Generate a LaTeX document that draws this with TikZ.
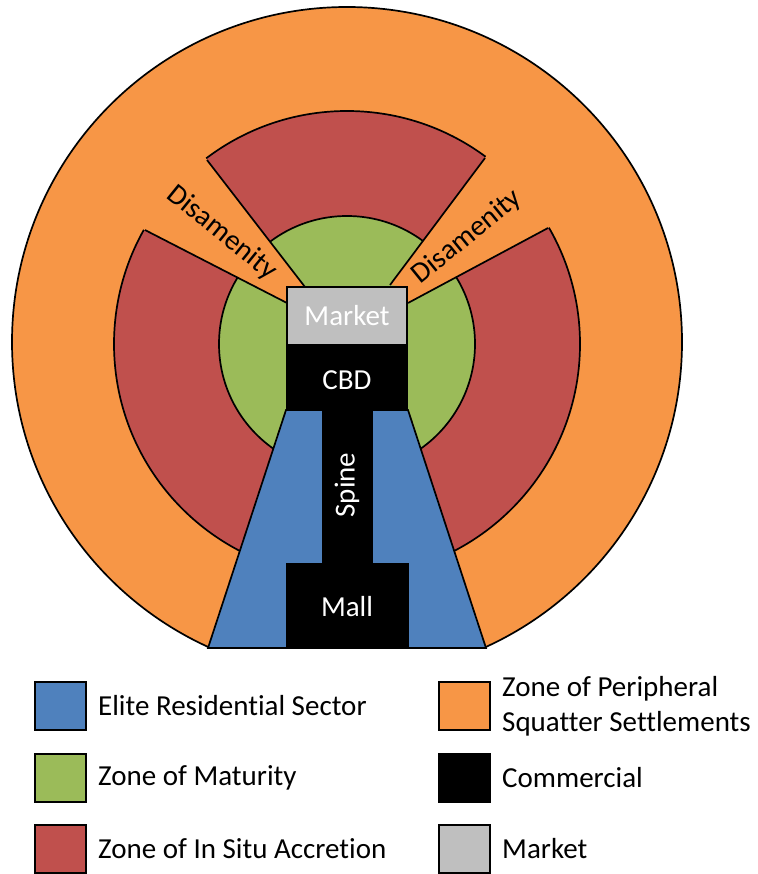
\documentclass[tikz,border=0pt]{standalone}
\usepackage{fontspec}
\setmainfont{Carlito}[Ligatures=NoCommon]
\usetikzlibrary{positioning}
\definecolor{peri}{HTML}{F79646}
\definecolor{accr}{HTML}{C0504D}
\definecolor{matu}{HTML}{9BBB59}
\definecolor{elite}{HTML}{4F81BD}
\definecolor{mkt}{HTML}{BFBFBF}
\tikzset{zone/.style={draw=black,line width=1.7pt},lbl/.style={font=\fontsize{29}{35}\selectfont,inner sep=0pt}}
\newcommand{\keybox}[5]{\draw[fill=#1,line width=1.6pt] (#2,#3) rectangle ++(51,48);\node[lbl,anchor=west,align=left] (#4) at (#2+63,#3+24) {#5};}

\begin{document}
\begin{tikzpicture}[x=1pt,y=-1pt]
\useasboundingbox (0,0) rectangle (757,874);
\begin{scope}\clip (0,0) rectangle (757,648);
\draw[zone,fill=peri] (347,342) circle[radius=335pt];
\end{scope}
\draw[zone,fill=accr] (347,344) circle[radius=233pt];
\draw[zone,fill=matu] (347,344) circle[radius=128pt];
\fill[peri] (287,303)--(88,201)--(168,109)--(305,287)--(287,287)--cycle;
\fill[peri] (408,303)--(604,198)--(523,107)--(390,285)--(408,287)--cycle;
\draw[zone] (145,230)--(287,303) (207,160)--(305,287);\draw[zone] (548,228)--(408,303) (485,158)--(390,285);
\draw[zone,fill=elite] (286,410)--(408,410)--(486,648)--(208,648)--cycle;
\fill (286,345) rectangle (408,411);\fill (322,405) rectangle (373,568);\fill (286,563) rectangle (409,648);
\draw[line width=1.6pt,fill=mkt] (287,287) rectangle (407,345);
\node[lbl,text=white] (market) at (347,316) {Market};
\node[lbl,text=white] (cbd) at (347,380) {CBD};
\node[lbl,text=white,rotate=90] (spine) at (347,485) {Spine};
\node[lbl,text=white] (mall) at (347,607) {Mall};
\node[lbl,rotate=-39] (disL) at (222,233) {Disamenity};
\node[lbl,rotate=39] (disR) at (467,237) {Disamenity};
\keybox{elite}{35}{682}{keyElite}{Elite Residential Sector}
\keybox{matu}{35}{754}{keyMatu}{Zone of Maturity}
\keybox{accr}{35}{825}{keyAccr}{Zone of In Situ Accretion}
\keybox{peri}{439}{682}{keyPeri}{Zone of Peripheral\\Squatter Settlements}
\keybox{black}{439}{754}{keyComm}{Commercial}
\keybox{mkt}{439}{825}{keyMkt}{Market}
\end{tikzpicture}
\end{document}
